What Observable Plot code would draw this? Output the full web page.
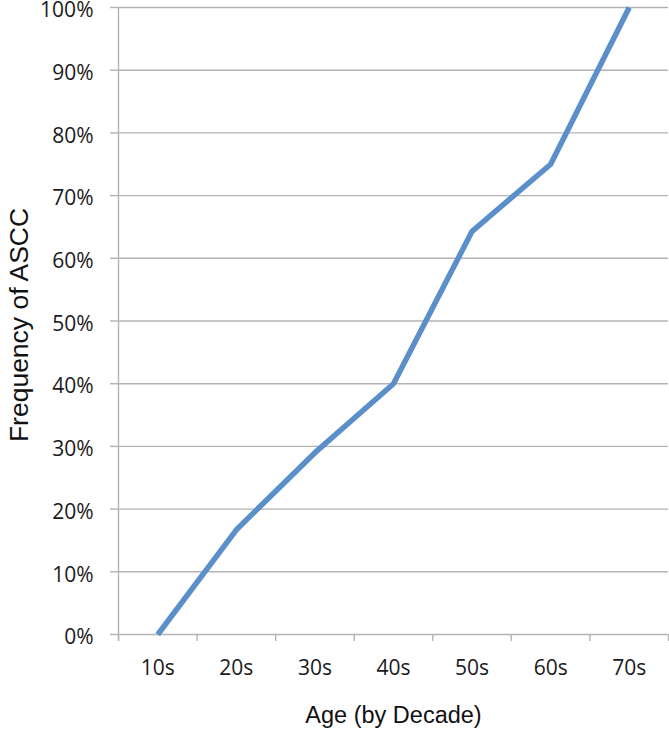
<!DOCTYPE html>
<html>
<head>
<meta charset="utf-8">
<script src="https://cdn.jsdelivr.net/npm/d3@7"></script>
<script src="https://cdn.jsdelivr.net/npm/@observablehq/plot@0.6"></script>
<style>
  html, body { margin: 0; padding: 0; background: #fff; }
</style>
</head>
<body>
<div id="chart"></div>
<script>
const categories = ["10s", "20s", "30s", "40s", "50s", "60s", "70s"];
const values = [0, 0.167, 0.29, 0.40, 0.643, 0.75, 1.0];
const yTicks = [0, 0.1, 0.2, 0.3, 0.4, 0.5, 0.6, 0.7, 0.8, 0.9, 1.0];
const xTitle = "Age (by Decade)";
const yTitle = "Frequency of ASCC";

const data = categories.map((c, i) => ({cat: c, idx: i, value: values[i]}));
const boundaries = d3.range(categories.length + 1);
const grid = "#b3b3b3";

const chart = Plot.plot({
  width: 669,
  height: 730,
  marginLeft: 118,
  marginRight: 1,
  marginTop: 7,
  marginBottom: 96,
  style: {fontFamily: "Open Sans", fontSize: "21px", color: "#1a1a1a", background: "#fff", overflow: "visible"},
  x: {type: "linear", domain: [0, categories.length], axis: null},
  y: {domain: [0, 1], axis: null},
  marks: [
    Plot.ruleY(yTicks, {stroke: grid, strokeWidth: 1.4}),
    Plot.ruleX([0], {stroke: grid, strokeWidth: 1.4, insetBottom: -7}),
    Plot.axisX(boundaries, {tickSize: 7, tickFormat: () => "", stroke: grid, strokeWidth: 1.4, label: null}),
    Plot.axisY(yTicks, {tickSize: 8, tickFormat: () => "", stroke: grid, strokeWidth: 1.4, label: null}),
    Plot.text(yTicks, {y: d => d, text: d3.format(".0%"), frameAnchor: "left", textAnchor: "end", dx: -25, dy: 3, fontSize: 21, fill: "#1a1a1a"}),
    Plot.text(data, {x: d => d.idx + 0.5, text: "cat", frameAnchor: "bottom", lineAnchor: "top", dy: 26, fontSize: 21, fill: "#1a1a1a"}),
    Plot.lineY(data, {x: d => d.idx + 0.5, y: "value", stroke: "#5b8fc9", strokeWidth: 5.5, strokeLinejoin: "miter", strokeLinecap: "butt"}),
    Plot.text([xTitle], {frameAnchor: "bottom", dy: 81, lineAnchor: "middle", textAnchor: "middle", fontFamily: "Liberation Sans", fontSize: 23.5, fill: "#111"}),
    Plot.text([yTitle], {frameAnchor: "left", dx: -99, dy: 4, rotate: -90, lineAnchor: "middle", textAnchor: "middle", fontFamily: "Liberation Sans", fontSize: 26.5, fill: "#111"})
  ]
});
document.getElementById("chart").appendChild(chart);
</script>
</body>
</html>
